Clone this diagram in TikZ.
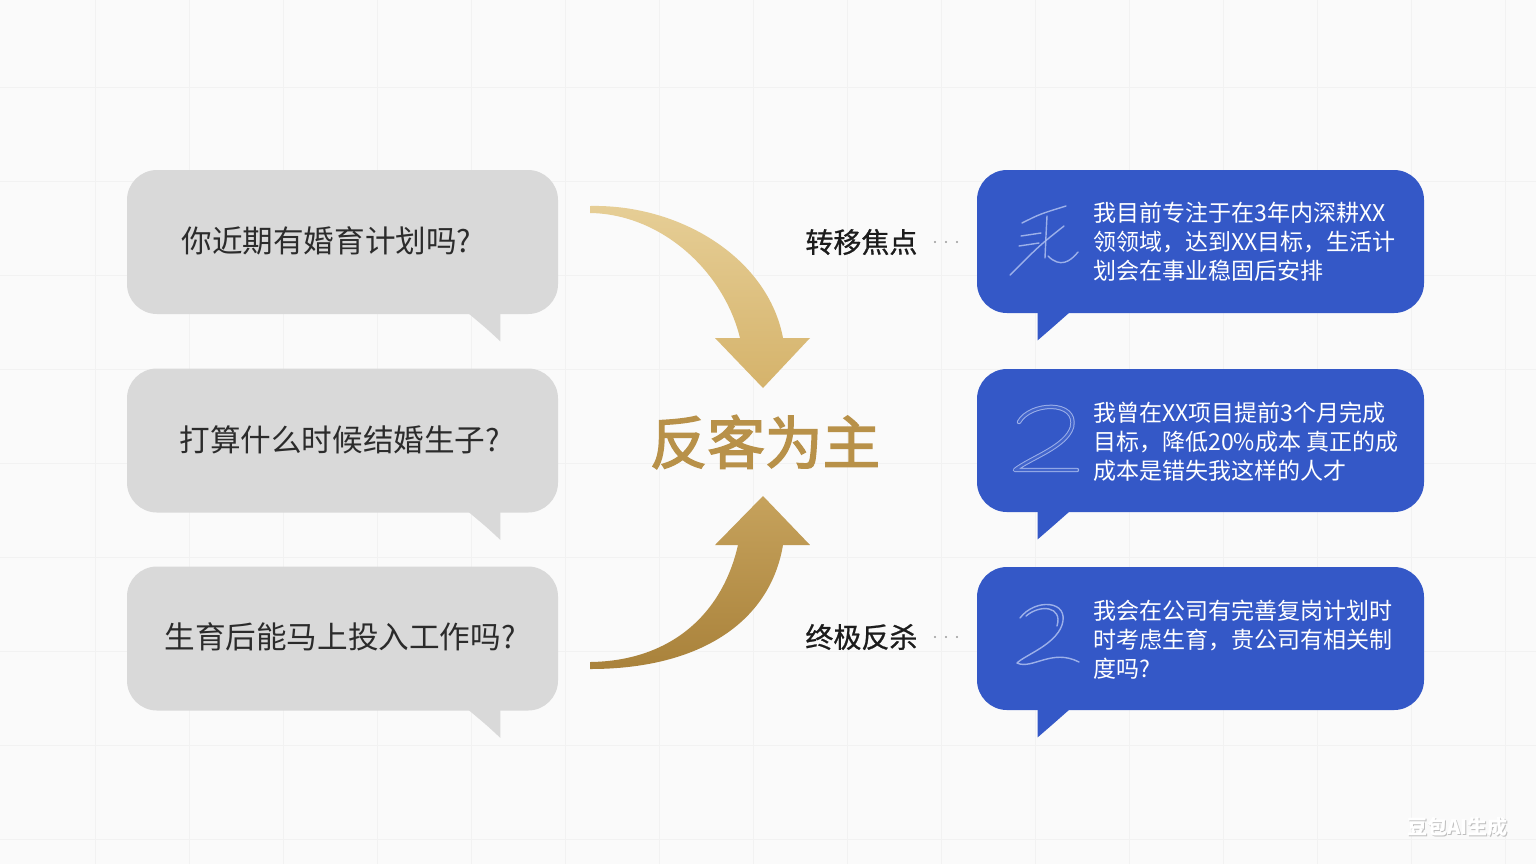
\documentclass[tikz,border=0pt]{standalone}
\usepackage{fontspec}
\setmainfont{Noto Sans CJK SC}
\newfontfamily\titlefont[FakeBold=2.6]{Noto Sans CJK SC}
\newfontfamily\labelfont[FakeBold=0.8]{Noto Sans CJK SC}
\usetikzlibrary{calc}
\definecolor{bgc}{HTML}{FAFAFA}
\definecolor{gridc}{HTML}{F2F2F2}
\definecolor{grayb}{HTML}{D9D9D9}
\definecolor{grayt}{HTML}{2B2B2B}
\definecolor{blueb}{HTML}{3458C7}
\definecolor{deco}{HTML}{AFC0F0}
\definecolor{goldA}{HTML}{E6CE96}
\definecolor{goldB}{HTML}{D5B36B}
\definecolor{goldC}{HTML}{C6A25C}
\definecolor{goldD}{HTML}{A9823B}
\definecolor{goldT}{HTML}{B89149}
\definecolor{labelc}{HTML}{1C1C1C}
\definecolor{dotc}{HTML}{9A9A9A}
\begin{document}
\begin{tikzpicture}[x=0.5pt,y=-0.5pt,
  graybubble/.style={rectangle,rounded corners=15pt,fill=grayb,minimum width=215.5pt,minimum height=72pt,inner sep=0pt},
  bluebubble/.style={rectangle,rounded corners=15pt,fill=blueb,minimum width=223.5pt,minimum height=71.5pt,inner sep=0pt},
  graytext/.style={anchor=west,text=grayt,font=\fontsize{15.3pt}{17pt}\selectfont,inner sep=0pt},
  bluetext/.style={anchor=west,text=white,align=left,font=\fontsize{11.5pt}{14.5pt}\selectfont,inner sep=0pt},
  labeltext/.style={anchor=west,text=labelc,font=\labelfont\fontsize{14pt}{16pt}\selectfont,inner sep=0pt},
  decostroke/.style={draw=deco,line width=0.7pt,line cap=round,line join=round,opacity=0.85},
  dotmark/.style={fill=dotc,draw=none}
]
\useasboundingbox (0,0) rectangle (1536,864);
\fill[bgc] (0,0) rectangle (1536,864);
\foreach \i in {0,...,15} \draw[gridc,line width=0.5pt] (95+94*\i,0) -- (95+94*\i,864);
\foreach \i in {0,...,8} \draw[gridc,line width=0.5pt] (0,87+94*\i) -- (1536,87+94*\i);

% gray bubbles
\node[graybubble] (g1) at (342.5,242) {};
\node[graybubble] (g2) at (342.5,440.5) {};
\node[graybubble] (g3) at (342.5,638.5) {};
\foreach \g in {g1,g2,g3}{
  \fill[grayb] ($(\g.south east)+(-90,-1)$) .. controls ($(\g.south east)+(-72,14)$) .. ($(\g.south east)+(-58,27)$) -- ($(\g.south east)+(-58,-1)$) -- cycle;
}
\node[graytext] (t1) at (181,241) {你近期有婚育计划吗?};
\node[graytext] (t2) at (179,440) {打算什么时候结婚生子?};
\node[graytext] (t3) at (164,637) {生育后能马上投入工作吗?};

% blue bubbles
\node[bluebubble] (b1) at (1200.5,241.5) {};
\node[bluebubble] (b2) at (1200.5,440.5) {};
\node[bluebubble] (b3) at (1200.5,638.5) {};
\foreach \b in {b1,b2,b3}{
  \fill[blueb] ($(\b.south west)+(93,-1)$) .. controls ($(\b.south west)+(76,14)$) .. ($(\b.south west)+(61,27)$) -- ($(\b.south west)+(61,-1)$) -- cycle;
}
\node[bluetext] (r1) at (1093,242) {我目前专注于在3年内深耕XX\\领领域，达到XX目标，生活计\\划会在事业稳固后安排};
\node[bluetext] (r2) at (1093,442) {我曾在XX项目提前3个月完成\\目标，降低20\%成本 真正的成\\成本是错失我这样的人才};
\node[bluetext] (r3) at (1093,640) {我会在公司有完善复岗计划时\\时考虑生育，贵公司有相关制\\度吗?};

% decorative glyphs
\draw[decostroke] (1022,223) .. controls (1040,214) .. (1066,206);
\draw[decostroke] (1021,236) -- (1041,233);
\draw[decostroke] (1019,246) -- (1039,243);
\draw[decostroke] (1047,216) .. controls (1046,235) .. (1045,258);
\draw[decostroke] (1064,226) .. controls (1040,245) .. (1010,275);
\draw[decostroke] (1048,256) .. controls (1060,268) and (1070,262) .. (1078,252);

\draw[decostroke,double=blueb,double distance=1.2pt,line width=0.5pt] (1019,422) .. controls (1030,402) and (1078,400) .. (1072,427) .. controls (1066,447) and (1030,458) .. (1015,470) -- (1077,470);

\draw[decostroke] (1020,618) .. controls (1035,598) and (1070,600) .. (1062,625) .. controls (1055,645) and (1025,655) .. (1017,663) .. controls (1032,670) and (1052,648) .. (1079,662);
\draw[decostroke] (1026,616) .. controls (1040,604) and (1063,606) .. (1057,626);

% center title
\node[text=goldT,font=\titlefont\fontsize{28.8pt}{32pt}\selectfont,inner sep=0pt] (title) at (765,442) {反客为主};

% arrows
\coordinate (topTip) at (763,388);
\coordinate (botTip) at (763,496);
\shade[left color=goldA,right color=goldB,shading angle=0]
  (590,206) .. controls (680,204) and (768,258) .. (783,338) -- (810,338) -- (topTip) -- (715,338) -- (740,338) .. controls (724,272) and (662,214) .. (590,213) -- cycle;
\shade[top color=goldC,bottom color=goldD]
  (590,669) .. controls (700,669) and (770,622) .. (783,545) -- (810,545) -- (botTip) -- (715,545) -- (738,545) .. controls (722,615) and (670,661) .. (590,662) -- cycle;

% labels
\node[labeltext] (l1) at (805,242) {转移焦点};
\node[labeltext] (l2) at (805,637) {终极反杀};
\foreach \yy in {242,637}{
  \foreach \xx in {935,946,957} \fill[dotmark] (\xx,\yy) circle (0.6pt);
}

% watermark
\node[text=black!25,font=\fontsize{10pt}{12pt}\selectfont\bfseries,inner sep=0pt] (wms) at (1458.6,827.6) {豆包AI生成};
\node[text=white,font=\fontsize{10pt}{12pt}\selectfont\bfseries,inner sep=0pt] (wm) at (1457.5,826.5) {豆包AI生成};
\end{tikzpicture}
\end{document}
